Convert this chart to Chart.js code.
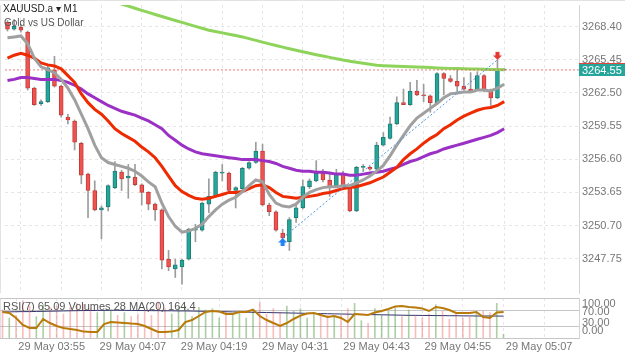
<!DOCTYPE html>
<html>
<head>
<meta charset="utf-8">
<script src="https://cdn.jsdelivr.net/npm/chart.js@4.4.1/dist/chart.umd.min.js"></script>
<style>
  html, body { margin: 0; padding: 0; background: #fff; }
  #wrap { position: relative; width: 625px; height: 352px; overflow: hidden; }
  canvas { position: absolute; left: 0; }
  #main { top: 0; }
  #sub { top: 298px; }
  .lbl { position: absolute; font-family: "Liberation Sans", Arial, sans-serif; white-space: nowrap; pointer-events: none; line-height: 1; }
</style>
</head>
<body>
<div id="wrap">
  <canvas id="main" width="625" height="298"></canvas>
  <canvas id="sub" width="625" height="54"></canvas>
  <div class="lbl" style="left:3px;top:4px;font-size:10px;color:#222">XAUUSD.a ▾ M1</div>
  <div class="lbl" style="left:4px;top:18px;font-size:10px;color:#555">Gold vs US Dollar</div>
  <div class="lbl" id="rsiLabel" style="left:3px;top:301px;font-size:11px;color:#555"></div>
</div>
<script>
// time axis
const startTime = '03:47';
const dayLabel = '29 May';
const timeTicks = ['03:55', '04:07', '04:19', '04:31', '04:43', '04:55', '05:07'];

// price axis
const priceTicks = [3247.75, 3250.70, 3253.65, 3256.60, 3259.55, 3262.50, 3265.45, 3268.40];
const rsiTicks = [0, 30, 70, 100];

// XAUUSD.a M1 candles
const open = [3268.78, 3268.18, 3268.35, 3267.92, 3262.93, 3261.56, 3261.73, 3264.57, 3263.11, 3260.35,
  3260.01, 3258.03, 3255.28, 3253.82, 3252.10, 3252.36, 3254.08, 3255.45, 3254.94, 3255.02,
  3254.33, 3253.65, 3252.61, 3252.10, 3247.71, 3246.85, 3247.02, 3247.71, 3250.29, 3250.29,
  3252.61, 3253.30, 3255.37, 3255.37, 3253.82, 3253.99, 3255.80, 3256.31, 3257.34, 3252.53,
  3251.93, 3250.03, 3249.26, 3251.41, 3252.27, 3254.16, 3254.68, 3255.37, 3254.76, 3254.25,
  3255.28, 3254.08, 3252.01, 3255.88, 3255.88, 3255.71, 3257.86, 3258.46, 3259.75, 3261.64,
  3261.47, 3262.68, 3262.33, 3262.25, 3261.64, 3264.22, 3263.79, 3263.54, 3263.11, 3262.85,
  3262.85, 3264.05, 3262.76, 3262.07, 3264.55];
const high = [3268.95, 3269.04, 3268.61, 3268.01, 3263.02, 3261.90, 3264.91, 3265.77, 3263.19, 3260.61,
  3260.10, 3258.12, 3255.37, 3254.68, 3252.44, 3254.33, 3256.40, 3255.62, 3256.14, 3256.14,
  3254.42, 3253.73, 3252.70, 3252.18, 3248.49, 3247.71, 3247.71, 3250.46, 3250.81, 3252.79,
  3254.85, 3255.54, 3256.14, 3255.45, 3254.16, 3255.88, 3256.40, 3258.12, 3257.95, 3252.70,
  3252.01, 3250.38, 3251.41, 3252.70, 3254.76, 3254.85, 3256.48, 3255.71, 3255.28, 3255.71,
  3255.54, 3254.16, 3255.97, 3256.14, 3255.97, 3258.12, 3258.98, 3260.35, 3262.16, 3262.85,
  3263.45, 3263.62, 3263.28, 3262.33, 3264.31, 3264.31, 3264.05, 3264.57, 3263.88, 3264.31,
  3264.40, 3264.14, 3262.85, 3265.43, 3264.65];
const low = [3268.01, 3268.09, 3267.92, 3262.76, 3261.39, 3261.39, 3261.64, 3263.02, 3260.35, 3259.75,
  3257.43, 3254.42, 3251.41, 3252.01, 3249.52, 3252.01, 3253.99, 3253.82, 3253.13, 3254.25,
  3252.53, 3252.10, 3251.15, 3246.85, 3246.68, 3246.08, 3245.48, 3247.63, 3249.26, 3250.21,
  3251.84, 3253.22, 3254.68, 3253.73, 3252.27, 3253.90, 3255.71, 3256.23, 3252.44, 3251.58,
  3250.21, 3248.92, 3248.49, 3250.98, 3252.18, 3253.99, 3254.59, 3254.59, 3253.30, 3254.16,
  3253.99, 3251.93, 3251.93, 3255.54, 3255.62, 3255.62, 3257.77, 3258.38, 3259.67, 3261.47,
  3261.39, 3262.25, 3261.73, 3260.78, 3261.56, 3262.33, 3263.45, 3262.42, 3262.76, 3262.59,
  3262.76, 3262.59, 3261.39, 3261.99, 3264.48];
const close = [3268.18, 3268.44, 3268.09, 3262.93, 3261.47, 3261.73, 3264.74, 3263.11, 3260.53, 3260.10,
  3258.12, 3255.19, 3253.82, 3252.10, 3252.27, 3254.25, 3255.54, 3254.85, 3255.11, 3254.33,
  3253.65, 3252.61, 3252.10, 3247.63, 3247.02, 3247.20, 3247.63, 3250.38, 3250.46, 3252.70,
  3253.30, 3255.45, 3255.45, 3253.82, 3254.08, 3255.80, 3256.31, 3257.34, 3252.53, 3251.93,
  3250.29, 3249.60, 3251.24, 3252.27, 3254.16, 3254.68, 3255.37, 3254.76, 3254.08, 3255.28,
  3254.16, 3252.01, 3255.88, 3255.97, 3255.71, 3257.86, 3258.55, 3259.75, 3261.64, 3261.47,
  3262.68, 3262.33, 3262.25, 3261.64, 3264.22, 3263.79, 3263.54, 3263.11, 3262.85, 3262.68,
  3264.05, 3262.76, 3262.07, 3264.52, 3264.55];

// moving averages
const maFast = [3267.41, 3267.49, 3267.58, 3266.89, 3265.60, 3264.83, 3264.57, 3264.31, 3263.71, 3262.93,
  3261.90, 3260.61, 3259.32, 3257.86, 3256.74, 3256.31, 3256.14, 3255.97, 3255.80, 3255.54,
  3255.11, 3254.59, 3254.16, 3252.70, 3251.50, 3250.64, 3250.12, 3250.21, 3250.46, 3250.81,
  3251.50, 3252.10, 3252.61, 3252.96, 3253.22, 3253.73, 3254.25, 3254.76, 3254.59, 3253.47,
  3252.70, 3252.44, 3252.36, 3252.61, 3253.22, 3253.65, 3253.90, 3254.08, 3254.16, 3254.16,
  3254.25, 3254.25, 3254.51, 3254.76, 3255.11, 3255.54, 3256.05, 3256.91, 3257.86, 3258.72,
  3259.58, 3260.27, 3260.70, 3261.13, 3261.56, 3262.07, 3262.42, 3262.50, 3262.59, 3262.59,
  3262.76, 3262.76, 3262.68, 3262.93, 3263.28];
const maMid = [3265.60, 3265.86, 3266.03, 3265.86, 3265.60, 3265.17, 3265.00, 3264.91, 3264.65, 3264.05,
  3263.45, 3262.42, 3261.64, 3261.04, 3260.61, 3260.01, 3259.32, 3258.89, 3258.55, 3258.20,
  3257.69, 3257.26, 3256.74, 3255.97, 3255.11, 3254.25, 3253.73, 3253.39, 3253.13, 3253.04,
  3253.13, 3253.30, 3253.47, 3253.65, 3253.65, 3253.73, 3253.99, 3254.25, 3254.33, 3254.08,
  3253.65, 3253.30, 3253.22, 3253.13, 3253.22, 3253.30, 3253.39, 3253.56, 3253.65, 3253.82,
  3253.99, 3254.08, 3254.16, 3254.33, 3254.51, 3254.76, 3255.02, 3255.45, 3255.88, 3256.57,
  3257.09, 3257.52, 3258.03, 3258.46, 3258.81, 3259.32, 3259.67, 3260.10, 3260.44, 3260.70,
  3260.96, 3261.13, 3261.21, 3261.39, 3261.73];
const maSlow = [3263.62, 3263.71, 3263.88, 3263.88, 3263.79, 3263.71, 3263.71, 3263.71, 3263.62, 3263.45,
  3263.19, 3262.85, 3262.42, 3262.07, 3261.73, 3261.39, 3261.13, 3260.87, 3260.70, 3260.53,
  3260.27, 3260.01, 3259.67, 3259.32, 3258.72, 3258.29, 3257.86, 3257.52, 3257.26, 3257.09,
  3257.00, 3256.91, 3256.83, 3256.74, 3256.66, 3256.57, 3256.57, 3256.57, 3256.48, 3256.40,
  3256.23, 3255.97, 3255.80, 3255.62, 3255.54, 3255.54, 3255.45, 3255.45, 3255.37, 3255.28,
  3255.28, 3255.19, 3255.19, 3255.28, 3255.37, 3255.45, 3255.54, 3255.71, 3255.88, 3256.14,
  3256.40, 3256.57, 3256.83, 3257.09, 3257.26, 3257.52, 3257.69, 3257.86, 3258.03, 3258.20,
  3258.38, 3258.55, 3258.72, 3258.98, 3259.32];
const maLong = [3273.51, 3273.32, 3273.13, 3272.94, 3272.76, 3272.57, 3272.38, 3272.19, 3272.00, 3271.81,
  3271.62, 3271.45, 3271.28, 3271.10, 3270.93, 3270.76, 3270.59, 3270.42, 3270.23, 3270.04,
  3269.85, 3269.67, 3269.49, 3269.31, 3269.13, 3268.95, 3268.78, 3268.61, 3268.43, 3268.26,
  3268.09, 3267.97, 3267.85, 3267.73, 3267.61, 3267.49, 3267.34, 3267.18, 3267.03, 3266.87,
  3266.72, 3266.58, 3266.44, 3266.31, 3266.17, 3266.03, 3265.91, 3265.79, 3265.67, 3265.55,
  3265.43, 3265.33, 3265.24, 3265.15, 3265.05, 3264.96, 3264.93, 3264.91, 3264.88, 3264.86,
  3264.83, 3264.81, 3264.78, 3264.76, 3264.73, 3264.71, 3264.69, 3264.67, 3264.65, 3264.64,
  3264.63, 3264.61, 3264.60, 3264.58, 3264.57];

// lower panel
const rsi = [65, 62.5, 50, 32.5, 25, 25, 47.5, 37.5, 30, 25,
  22.5, 20, 16, 15, 15, 35, 40, 39, 37.5, 36,
  35, 30, 22.5, 15, 15, 16, 20, 40, 45, 55,
  65, 67.5, 66, 60, 60, 65, 65, 71, 55, 45,
  37.5, 30, 37.5, 47.5, 56, 61, 62.5, 57.5, 52.5, 55,
  50, 40, 60, 59, 57.5, 64, 67.5, 72.5, 79, 80,
  77.5, 76, 74, 67.5, 77.5, 75, 70, 62.5, 62.5, 62.5,
  65, 52.5, 50, 64, 65.09];
const volume = [210, 150, 170, 280, 240, 160, 250, 230, 240, 180,
  230, 260, 250, 220, 190, 200, 210, 170, 190, 160,
  180, 200, 170, 270, 220, 180, 230, 240, 160, 230,
  210, 220, 150, 200, 170, 190, 150, 200, 270, 180,
  220, 190, 240, 200, 220, 150, 180, 160, 170, 160,
  170, 220, 260, 130, 110, 220, 170, 200, 230, 160,
  210, 170, 150, 180, 250, 200, 140, 190, 150, 160,
  190, 200, 190, 260, 28];
const volumeMA = [196, 196, 197, 198, 198, 199, 200, 201, 202, 203,
  204, 205, 206, 206, 207, 207, 208, 208, 207, 207,
  206, 206, 205, 205, 204, 204, 203, 203, 202, 201,
  200, 199, 198, 197, 196, 195, 194, 193, 192, 191,
  190, 189, 188, 187, 186, 185, 184, 183, 182, 181,
  180, 179, 178, 177, 176, 175, 174, 173, 172, 171,
  170, 170, 169, 169, 168, 168, 167, 167, 166, 166,
  165, 165, 165, 164.5, 164.4];

// trade marks and current price
const lastPrice = 3264.55;
const buyIdx = 41, buyPrice = 3249.60;
const sellIdx = 73, sellPrice = 3265.45;

// ---------------------------------------------------------------
const X_MIN = -0.37, X_MAX = 85.15;
const Y_MIN = 3244.70, Y_MAX = 3270.33;
const AXIS_FONT = { family: '"Liberation Sans", Arial, sans-serif', size: 11 };
const GRID = '#e6e6e6';
const UP = '#26a69a', UP_EDGE = '#1b7f74';
const DOWN = '#ef5350', DOWN_EDGE = '#c43c3a';

Chart.defaults.animation = false;
Chart.defaults.font.family = AXIS_FONT.family;

const toMin = t => { const [h, m] = t.split(':').map(Number); return h * 60 + m; };
const tickIdx = timeTicks.map(t => toMin(t) - toMin(startTime));
const tickText = {};
tickIdx.forEach((v, k) => { tickText[v] = dayLabel + ' ' + timeTicks[k]; });
const gridTicks = [];
for (let v = tickIdx[0] - 6; v <= X_MAX; v += 6) gridTicks.push(v);

const idx = open.map((_, i) => i);
const dir = i => close[i] > open[i] ? 1 : close[i] < open[i] ? -1 : 0;
const pts = arr => idx.map(i => ({ x: i, y: arr[i] }));

document.getElementById('rsiLabel').textContent =
  'RSI(7) ' + rsi[rsi.length - 1].toFixed(2) + ' Volumes ' + volume[volume.length - 1] +
  ' MA(20) ' + volumeMA[volumeMA.length - 1];

function makeArrow(color, down) {
  const c = document.createElement('canvas');
  c.width = 9; c.height = 20;
  const g = c.getContext('2d');
  g.fillStyle = color;
  if (down) { g.translate(0, 20); g.scale(1, -1); }
  g.beginPath();
  g.moveTo(4.5, 10); g.lineTo(9, 14.5); g.lineTo(6.5, 14.5); g.lineTo(6.5, 18);
  g.lineTo(2.5, 18); g.lineTo(2.5, 14.5); g.lineTo(0, 14.5);
  g.closePath(); g.fill();
  return c;
}

const frame = {
  id: 'frame',
  beforeDraw(chart) {
    const { ctx, chartArea } = chart;
    ctx.save();
    ctx.fillStyle = '#e2e2e2';
    ctx.fillRect(0, chartArea.top, 1, chartArea.bottom - chartArea.top);
    if (chart.canvas.id === 'main') ctx.fillRect(0, 0, chart.width, 1);
    ctx.restore();
  }
};

const priceBox = {
  id: 'priceBox',
  afterDraw(chart) {
    const { ctx, chartArea, scales } = chart;
    const py = Math.round(scales.y.getPixelForValue(lastPrice));
    ctx.save();
    ctx.fillStyle = '#e0463f';
    ctx.fillRect(chartArea.right, py - 7, chart.width - chartArea.right, 1);
    ctx.fillStyle = UP;
    ctx.fillRect(chartArea.right, py - 6, chart.width - chartArea.right, 12);
    ctx.fillStyle = '#fff';
    ctx.font = '11px ' + AXIS_FONT.family;
    ctx.textBaseline = 'middle';
    ctx.fillText(lastPrice.toFixed(2), chartArea.right + 3, py + 0.5);
    ctx.restore();
  }
};

new Chart(document.getElementById('main'), {
  type: 'bar',
  data: {
    datasets: [
      { type: 'line', data: [{ x: buyIdx, y: buyPrice }], pointStyle: makeArrow('#1f7ff0', false), pointRadius: 4, showLine: false, order: 0 },
      { type: 'line', data: [{ x: sellIdx, y: sellPrice }], pointStyle: makeArrow('#e5392f', true), pointRadius: 4, showLine: false, order: 0 },
      { type: 'line', data: [{ x: buyIdx, y: buyPrice }, { x: sellIdx, y: sellPrice }], borderColor: '#4a94e8', borderWidth: 1, borderDash: [2, 2], pointRadius: 0, order: 1 },
      { type: 'line', data: pts(maFast), borderColor: '#a0a0a0', borderWidth: 3, pointRadius: 0, order: 2 },
      { type: 'line', data: pts(maMid), borderColor: '#ee2a00', borderWidth: 3, pointRadius: 0, order: 3 },
      { type: 'line', data: pts(maSlow), borderColor: '#9b30c4', borderWidth: 3, pointRadius: 0, order: 4 },
      { type: 'line', data: [{ x: X_MIN, y: lastPrice }, { x: X_MAX, y: lastPrice }], borderColor: 'rgba(235,100,100,0.85)', borderWidth: 1, borderDash: [2, 2], pointRadius: 0, order: 5 },
      { type: 'line', data: pts(maLong), borderColor: '#8ed35a', borderWidth: 3, pointRadius: 0, order: 6 },
      {
        data: idx.map(i => ({ x: i, y: [open[i], close[i]] })),
        backgroundColor: idx.map(i => dir(i) > 0 ? UP : dir(i) < 0 ? DOWN : '#999'),
        borderColor: idx.map(i => dir(i) > 0 ? UP_EDGE : dir(i) < 0 ? DOWN_EDGE : '#888'),
        borderWidth: 1, borderSkipped: false, barThickness: 4, minBarLength: 1, grouped: false, order: 7
      },
      {
        data: idx.map(i => ({ x: i, y: [low[i], high[i]] })),
        backgroundColor: '#9c9c9c', borderWidth: 0, barThickness: 1, grouped: false, order: 8
      }
    ]
  },
  options: {
    responsive: false,
    layout: { padding: 0 },
    plugins: { legend: { display: false }, tooltip: { enabled: false } },
    scales: {
      x: {
        type: 'linear', min: X_MIN, max: X_MAX, offset: false,
        afterBuildTicks: s => { s.ticks = gridTicks.map(v => ({ value: v })); },
        afterFit: s => { s.height = 0; s.paddingLeft = 0; s.paddingRight = 0; },
        ticks: { display: false },
        grid: { offset: false, color: GRID, drawTicks: false },
        border: { display: false, dash: [3, 3] }
      },
      y: {
        position: 'right', min: Y_MIN, max: Y_MAX,
        afterBuildTicks: s => { s.ticks = priceTicks.map(v => ({ value: v })); },
        afterFit: s => { s.width = 46; s.paddingTop = 0; s.paddingBottom = 0; },
        ticks: { autoSkip: false, color: '#777', font: AXIS_FONT, padding: 3, callback: v => v.toFixed(2) },
        grid: { color: GRID, drawTicks: false },
        border: { color: '#d4d4d4', dash: [3, 3] }
      }
    }
  },
  plugins: [frame, priceBox]
});

new Chart(document.getElementById('sub'), {
  type: 'bar',
  data: {
    datasets: [
      { type: 'line', data: pts(rsi), yAxisID: 'yRsi', borderColor: '#b97a0a', borderWidth: 2, pointRadius: 0, order: 0 },
      { type: 'line', data: pts(volumeMA), yAxisID: 'yVol', borderColor: '#35356e', borderWidth: 1, pointRadius: 0, order: 1 },
      {
        data: pts(volume), yAxisID: 'yVol',
        backgroundColor: idx.map(i => dir(i) >= 0 ? 'rgba(110,170,90,0.55)' : 'rgba(240,110,110,0.45)'),
        borderWidth: 0, barThickness: 1, grouped: false, order: 2
      }
    ]
  },
  options: {
    responsive: false,
    layout: { padding: 0 },
    plugins: { legend: { display: false }, tooltip: { enabled: false } },
    scales: {
      x: {
        type: 'linear', min: X_MIN, max: X_MAX, offset: false,
        afterBuildTicks: s => { s.ticks = gridTicks.map(v => ({ value: v })); },
        afterFit: s => { s.height = 14; s.paddingLeft = 0; s.paddingRight = 0; },
        ticks: { autoSkip: false, maxRotation: 0, color: '#777', font: AXIS_FONT, padding: 2, labelOffset: -5, callback: v => tickText[v] || '' },
        grid: { offset: false, color: GRID, drawTicks: false },
        border: { display: false, dash: [3, 3] }
      },
      yRsi: {
        position: 'right', min: 0, max: 100,
        afterBuildTicks: s => { s.ticks = rsiTicks.map(v => ({ value: v })); },
        afterFit: s => { s.width = 0; s.paddingTop = 0; s.paddingBottom = 0; },
        ticks: { display: false },
        grid: { color: '#c6c6c6', drawTicks: false },
        border: { display: false }
      },
      yRsiLabels: {
        position: 'right', min: -25.9, max: 122.2,
        afterBuildTicks: s => { s.ticks = rsiTicks.map(v => ({ value: v })); },
        afterFit: s => { s.width = 46; s.paddingTop = 0; s.paddingBottom = 0; },
        ticks: { autoSkip: false, color: '#777', font: AXIS_FONT, padding: 3, callback: v => v.toFixed(2) },
        grid: { display: false, drawTicks: false },
        border: { color: '#d4d4d4' }
      },
      yVol: { display: false, min: 0, max: 300 }
    }
  },
  plugins: [frame]
});
</script>
</body>
</html>
